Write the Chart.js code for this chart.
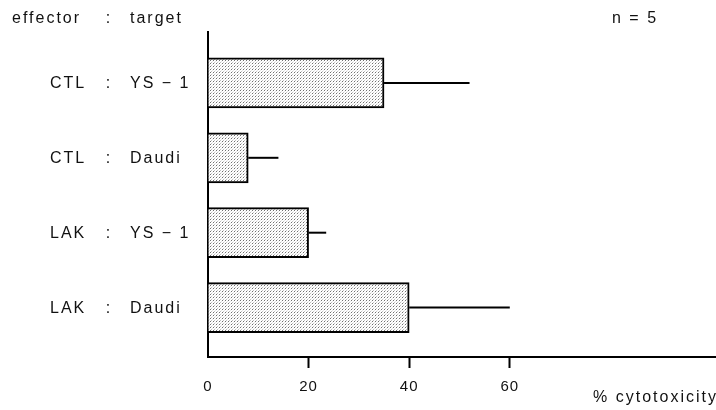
<!DOCTYPE html>
<html>
<head>
<meta charset="utf-8">
<script src="https://cdn.jsdelivr.net/npm/chart.js@4/dist/chart.umd.min.js"></script>
<style>
html,body{margin:0;padding:0;background:#fff;}
canvas{display:block;}
</style>
</head>
<body>
<canvas id="c" width="716" height="410"></canvas>
<script>
// ---- data ----
const effectors = ['CTL', 'CTL', 'LAK', 'LAK'];
const targets = ['YS − 1', 'Daudi', 'YS − 1', 'Daudi'];
const values = [35, 8, 20, 40];          // % cytotoxicity (mean)
const errorTops = [52, 14, 23.5, 60];    // mean + error
const xTickValues = [0, 20, 40, 60];
const headerEffector = 'effector';
const headerTarget = 'target';
const nLabel = 'n = 5';
const xTitle = '% cytotoxicity';

const FONT = '"Liberation Sans", Arial, Helvetica, sans-serif';

// stipple pattern
function makePattern(ctx) {
  const p = document.createElement('canvas');
  p.width = 3; p.height = 3;
  const pc = p.getContext('2d');
  pc.fillStyle = '#ffffff';
  pc.fillRect(0, 0, 3, 3);
  pc.fillStyle = '#707070';
  pc.fillRect(0, 0, 1, 1);
  pc.fillStyle = '#c0c0c0';
  pc.fillRect(1, 2, 1, 1);
  pc.fillStyle = '#e4e4e4';
  pc.fillRect(2, 1, 1, 1);
  return ctx.createPattern(p, 'repeat');
}

const canvas = document.getElementById('c');
const ctx = canvas.getContext('2d');
const pattern = makePattern(ctx);

const rows = values.map((v, i) => ({ x: v, y: i + 1 }));

const textPlugin = {
  id: 'textPlugin',
  beforeDraw(chart) {
    chart.ctx.letterSpacing = '1px';
  },
  afterDatasetsDraw(chart) {
    const c = chart.ctx;
    const xs = chart.scales.x, ys = chart.scales.y;
    // error bars
    c.save();
    c.strokeStyle = '#000';
    c.lineWidth = 2;
    values.forEach((v, i) => {
      const y = ys.getPixelForValue(i + 1);
      c.beginPath();
      c.moveTo(xs.getPixelForValue(v), y);
      c.lineTo(xs.getPixelForValue(errorTops[i]), y);
      c.stroke();
    });
    c.restore();
  },
  afterDraw(chart) {
    const c = chart.ctx;
    const ys = chart.scales.y;
    c.save();
    c.letterSpacing = '2px';
    c.fillStyle = '#111';
    c.font = '16px ' + FONT;
    c.textBaseline = 'middle';
    // row labels
    effectors.forEach((e, i) => {
      const y = ys.getPixelForValue(i + 1) + 1;
      c.textAlign = 'left';
      c.fillText(e, 50, y);
      c.textAlign = 'center';
      c.fillText(':', 109, y);
      c.textAlign = 'left';
      c.fillText(targets[i], 130, y);
    });
    // header
    c.textAlign = 'left';
    c.fillText(headerEffector, 12, 19);
    c.textAlign = 'center';
    c.fillText(':', 109, 19);
    c.textAlign = 'left';
    c.fillText(headerTarget, 130, 19);
    c.fillText(nLabel, 612, 19);
    // x title
    c.textAlign = 'right';
    c.fillText(xTitle, 718, 398);
    c.restore();
  }
};

new Chart(ctx, {
  type: 'bar',
  data: {
    datasets: [{
      data: rows,
      backgroundColor: pattern,
      borderColor: '#000',
      borderWidth: 2,
      borderSkipped: 'start',
      barThickness: 50
    }]
  },
  options: {
    indexAxis: 'y',
    responsive: false,
    animation: false,
    devicePixelRatio: 1,
    layout: { padding: { top: 32, right: 0, bottom: 0, left: 0 } },
    plugins: { legend: { display: false }, tooltip: { enabled: false } },
    scales: {
      x: {
        type: 'linear',
        min: 0,
        max: 101,
        afterBuildTicks(scale) { scale.ticks = xTickValues.map(v => ({ value: v })); },
        afterFit(scale) { scale.height = 53; },
        grid: {
          display: true,
          drawOnChartArea: false,
          drawTicks: true,
          tickLength: 11,
          tickWidth: 2,
          tickColor: (c) => (c.tick && c.tick.value === 0) ? 'rgba(0,0,0,0)' : '#000'
        },
        border: { display: true, color: '#000', width: 2 },
        ticks: {
          color: '#111',
          padding: 10,
          maxRotation: 0,
          autoSkip: false,
          font: { family: FONT, size: 15 },
          callback: (v) => String(v)
        }
      },
      y: {
        type: 'linear',
        reverse: true,
        offset: false,
        min: 0.32,
        max: 4.66,
        afterFit(scale) { scale.width = 208; },
        grid: { display: false, offset: false },
        border: { display: true, color: '#000', width: 2 },
        ticks: { display: false }
      }
    }
  },
  plugins: [textPlugin]
});
</script>
</body>
</html>
